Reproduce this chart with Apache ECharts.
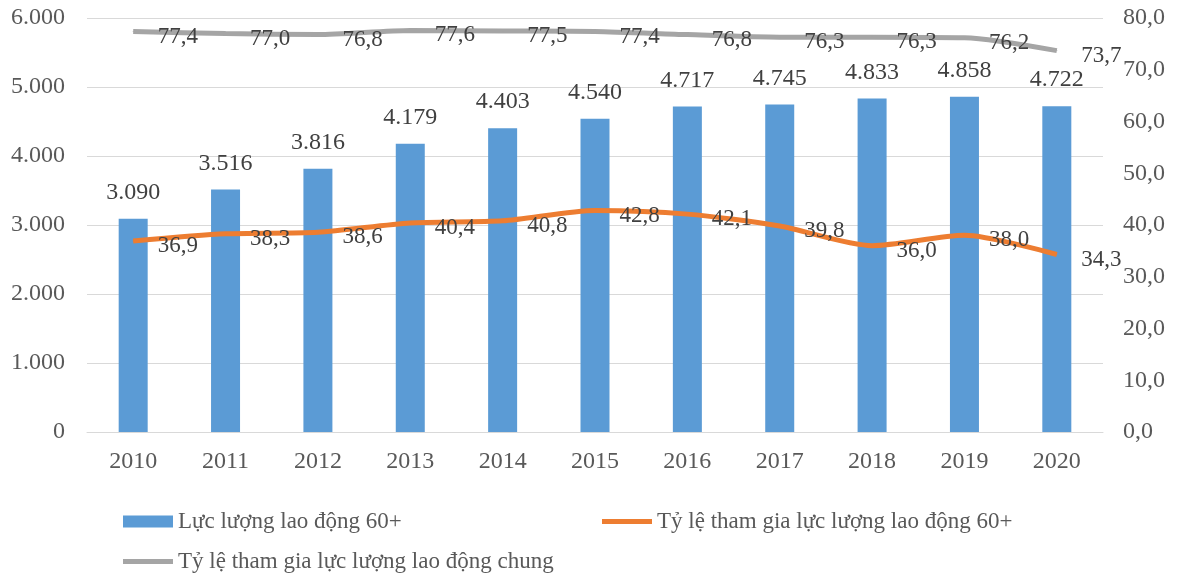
<!DOCTYPE html>
<html>
<head>
<meta charset="utf-8">
<script src="https://cdn.jsdelivr.net/npm/echarts@6/dist/echarts.min.js"></script>
<style>
  html, body {margin: 0; padding: 0; background: #fff;}
  #chart {width: 1179px; height: 574px;}
</style>
</head>
<body>
<div id="chart"></div>
<script>
const years = ['2010', '2011', '2012', '2013', '2014', '2015', '2016', '2017', '2018', '2019', '2020'];
const labor60 = [3090, 3516, 3816, 4179, 4403, 4540, 4717, 4745, 4833, 4858, 4722];
const rate60 = [36.9, 38.3, 38.6, 40.4, 40.8, 42.8, 42.1, 39.8, 36.0, 38.0, 34.3];
const rateAll = [77.4, 77.0, 76.8, 77.6, 77.5, 77.4, 76.8, 76.3, 76.3, 76.2, 73.7];

const names = [
  'Lực lượng lao động 60+',
  'Tỷ lệ tham gia lực lượng lao động 60+',
  'Tỷ lệ tham gia lực lượng lao động chung'
];

const font = '"Liberation Serif", "Times New Roman", serif';
const axisColor = '#595959';
const valueColor = '#404040';

const thousands = v => String(Math.round(v)).replace(/\B(?=(\d{3})+(?!\d))/g, '.');
const decimal = v => v.toFixed(1).replace('.', ',');

const chart = echarts.init(document.getElementById('chart'));

const legendBase = {
  orient: 'horizontal',
  itemWidth: 50,
  itemGap: 6,
  textStyle: {fontFamily: font, fontSize: 23, color: axisColor},
  selectedMode: false
};

const lineLabel = {
  show: true, position: 'right', distance: 24, offset: [0, 5],
  fontFamily: font, fontSize: 23, color: valueColor,
  formatter: p => decimal(p.value)
};

chart.setOption({
  animation: false,
  textStyle: {fontFamily: font},
  grid: {left: 87, right: 76, top: 18, bottom: 142},
  legend: [
    {...legendBase, itemHeight: 12, data: [{name: names[0], icon: 'rect'}], left: 118, top: 505},
    {...legendBase, itemHeight: 5, data: [{name: names[1], icon: 'rect'}], left: 597, top: 505},
    {...legendBase, itemHeight: 5, data: [{name: names[2], icon: 'rect'}], left: 118, top: 545}
  ],
  xAxis: {
    type: 'category',
    data: years,
    axisTick: {show: false},
    axisLine: {lineStyle: {color: '#d9d9d9'}},
    axisLabel: {fontFamily: font, fontSize: 24, color: axisColor, margin: 18}
  },
  yAxis: [
    {
      type: 'value',
      min: 0, max: 6000, interval: 1000,
      axisLine: {show: false},
      axisTick: {show: false},
      splitLine: {lineStyle: {color: '#d9d9d9'}},
      axisLabel: {fontFamily: font, fontSize: 24, color: axisColor, margin: 22, formatter: thousands}
    },
    {
      type: 'value',
      min: 0, max: 80, interval: 10,
      axisLine: {show: false},
      axisTick: {show: false},
      splitLine: {show: false},
      axisLabel: {fontFamily: font, fontSize: 24, color: axisColor, margin: 20, formatter: decimal}
    }
  ],
  series: [
    {
      name: names[0],
      type: 'bar',
      data: labor60,
      barWidth: 29,
      itemStyle: {color: '#5b9bd5'},
      label: {
        show: true, position: 'top', distance: 14,
        fontFamily: font, fontSize: 24, color: valueColor,
        formatter: p => thousands(p.value)
      }
    },
    {
      name: names[1],
      type: 'line',
      yAxisIndex: 1,
      data: rate60,
      smooth: 0.25,
      symbol: 'circle',
      symbolSize: 1,
      showSymbol: true,
      lineStyle: {color: '#ed7d31', width: 5},
      itemStyle: {color: '#ed7d31'},
      label: lineLabel
    },
    {
      name: names[2],
      type: 'line',
      yAxisIndex: 1,
      data: rateAll,
      smooth: 0.25,
      symbol: 'circle',
      symbolSize: 1,
      showSymbol: true,
      lineStyle: {color: '#a5a5a5', width: 5},
      itemStyle: {color: '#a5a5a5'},
      label: lineLabel
    }
  ]
});
</script>
</body>
</html>
